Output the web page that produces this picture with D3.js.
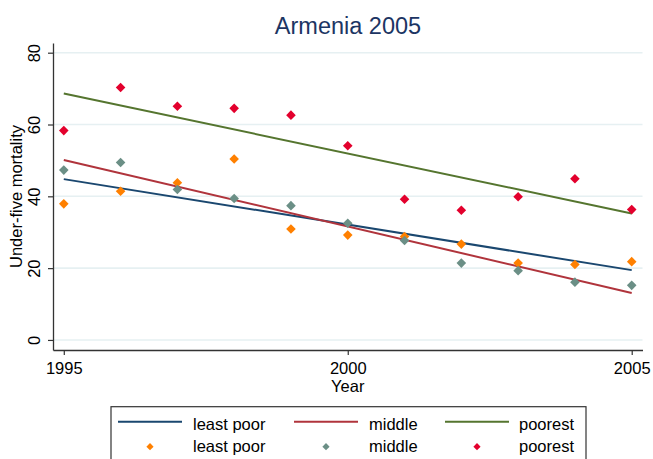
<!DOCTYPE html>
<html>
<head>
<meta charset="utf-8">
<script src="https://cdn.jsdelivr.net/npm/d3@7"></script>
<style>
  html, body { margin: 0; padding: 0; background: #fff; }
  svg { display: block; font-family: "Liberation Sans", Arial, Helvetica, sans-serif; }
</style>
</head>
<body>
<svg id="chart" width="653" height="459"></svg>
<script>
// Under-five mortality by wealth group, Armenia DHS 2005
const years = [1995, 1996, 1997, 1998, 1999, 2000, 2001, 2002, 2003, 2004, 2005];
const leastPoor = [37.9, 41.4, 43.8, 50.4, 30.9, 29.2, 28.8, 26.7, 21.4, 21.0, 21.8];
const middle    = [47.3, 49.4, 41.9, 39.4, 37.4, 32.5, 27.7, 21.4, 19.3, 16.1, 15.2];
const poorest   = [58.3, 70.3, 65.1, 64.5, 62.6, 54.1, 39.2, 36.1, 39.9, 44.9, 36.3];
const groupNames = ["least poor", "middle", "poorest"];
const yTicks = [0, 20, 40, 60, 80];
const xTicks = [1995, 2000, 2005];

const fitColors = ["#1a476f", "#b0343c", "#55752f"];
const dotColors = ["#ff8000", "#6b8f86", "#e3002d"];
const series = [leastPoor, middle, poorest];

const svg = d3.select("#chart");
const fontSize = 16.5;

const x = d3.scaleLinear().domain([1994.81, 2005.19]).range([53, 642.5]);
const y = d3.scaleLinear().domain([-2.8, 82.7]).range([350, 43]);

// Least-squares linear fit of one group's values on year
function linearFit(xs, ys) {
  const mx = d3.mean(xs), my = d3.mean(ys);
  let sxy = 0, sxx = 0;
  xs.forEach((xv, i) => { sxy += (xv - mx) * (ys[i] - my); sxx += (xv - mx) ** 2; });
  const b = sxy / sxx;
  return xv => my + b * (xv - mx);
}

function diamond(r) {
  return `M0,${-r}L${r},0L0,${r}L${-r},0Z`;
}

// Horizontal grid
svg.append("g").selectAll("line").data(yTicks).join("line")
  .attr("x1", x.range()[0]).attr("x2", x.range()[1])
  .attr("y1", d => y(d)).attr("y2", d => y(d))
  .attr("stroke", "#e6f0f2").attr("stroke-width", 1.6);

// Title
svg.append("text")
  .attr("x", 348).attr("y", 34)
  .attr("text-anchor", "middle")
  .attr("font-size", 23.5)
  .attr("fill", "#1c3563")
  .text("Armenia 2005");

// Y axis with vertical tick labels
const yAxis = svg.append("g")
  .attr("transform", `translate(${x.range()[0]},0)`)
  .call(d3.axisLeft(y).tickValues(yTicks).tickSize(5).tickSizeOuter(0));
yAxis.select(".domain").attr("stroke", "#333").attr("stroke-width", 1.3);
yAxis.selectAll(".tick line").attr("stroke", "#333").attr("stroke-width", 1.2);
yAxis.selectAll(".tick text")
  .attr("transform", "rotate(-90)")
  .attr("x", 0).attr("y", -13).attr("dy", 0)
  .attr("text-anchor", "middle")
  .attr("font-size", fontSize)
  .attr("font-family", "Liberation Sans, Arial, sans-serif")
  .attr("fill", "#000");

// X axis
const xAxis = svg.append("g")
  .attr("transform", `translate(0,${y.range()[0]})`)
  .call(d3.axisBottom(x).tickValues(xTicks).tickFormat(d3.format("d")).tickSize(5).tickSizeOuter(0));
xAxis.select(".domain").attr("stroke", "#333").attr("stroke-width", 1.3);
xAxis.selectAll(".tick line").attr("stroke", "#333").attr("stroke-width", 1.2);
xAxis.selectAll(".tick text")
  .attr("y", 23.5).attr("dy", 0)
  .attr("font-size", fontSize)
  .attr("font-family", "Liberation Sans, Arial, sans-serif")
  .attr("fill", "#000");

// Axis titles
svg.append("text")
  .attr("transform", `translate(22,${(y.range()[0] + y.range()[1]) / 2}) rotate(-90)`)
  .attr("text-anchor", "middle")
  .attr("font-size", fontSize)
  .text("Under-five mortality");

svg.append("text")
  .attr("x", (x(1995) + x(2005)) / 2).attr("y", 392)
  .attr("text-anchor", "middle")
  .attr("font-size", fontSize)
  .text("Year");

// Fitted lines
const plot = svg.append("g");
series.forEach((vals, i) => {
  const f = linearFit(years, vals);
  const x0 = d3.min(years), x1 = d3.max(years);
  plot.append("line")
    .attr("x1", x(x0)).attr("y1", y(f(x0)))
    .attr("x2", x(x1)).attr("y2", y(f(x1)))
    .attr("stroke", fitColors[i]).attr("stroke-width", 2);
});

// Observed values
series.forEach((vals, i) => {
  plot.append("g").selectAll("path").data(vals).join("path")
    .attr("transform", (d, j) => `translate(${x(years[j])},${y(d)})`)
    .attr("d", diamond(4.8))
    .attr("fill", dotColors[i]);
});

// Legend
const legend = svg.append("g");
legend.append("rect")
  .attr("x", 111).attr("y", 406.7)
  .attr("width", 475).attr("height", 80)
  .attr("fill", "#fff").attr("stroke", "#333").attr("stroke-width", 1.2);

const colX = [118, 294, 445];
const textX = [193, 369, 519];
groupNames.forEach((name, i) => {
  legend.append("line")
    .attr("x1", colX[i]).attr("x2", colX[i] + 64)
    .attr("y1", 421.7).attr("y2", 421.7)
    .attr("stroke", fitColors[i]).attr("stroke-width", 2);
  legend.append("text")
    .attr("x", textX[i]).attr("y", 429.5)
    .attr("font-size", fontSize).text(name);
  legend.append("path")
    .attr("transform", `translate(${colX[i] + 32},446.7)`)
    .attr("d", diamond(3.6))
    .attr("fill", dotColors[i]);
  legend.append("text")
    .attr("x", textX[i]).attr("y", 452.3)
    .attr("font-size", fontSize).text(name);
});
</script>
</body>
</html>
